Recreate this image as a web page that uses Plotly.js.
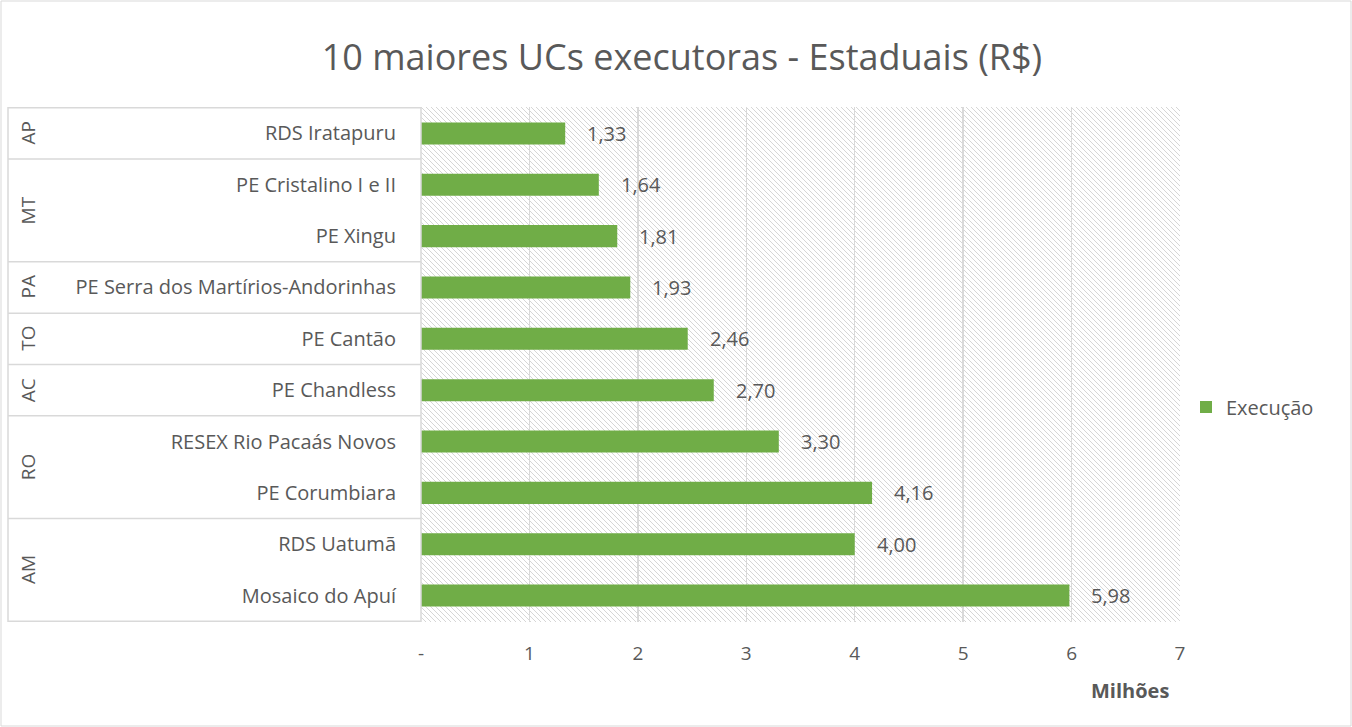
<!DOCTYPE html>
<html>
<head>
<meta charset="utf-8">
<script src="https://cdn.plot.ly/plotly-3.0.1.min.js"></script>
<style>html,body{margin:0;padding:0;background:#fff;}#chart{width:1352px;height:727px;}</style>
</head>
<body>
<div id="chart"></div>
<script>
// Data (top to bottom as shown)
const states = ["AP", "MT", "MT", "PA", "TO", "AC", "RO", "RO", "AM", "AM"];
const units = ["RDS Iratapuru", "PE Cristalino I e II", "PE Xingu", "PE Serra dos Martírios-Andorinhas", "PE Cantão", "PE Chandless", "RESEX Rio Pacaás Novos", "PE Corumbiara", "RDS Uatumã", "Mosaico do Apuí"];
const execucao = [1.33, 1.64, 1.81, 1.93, 2.46, 2.70, 3.30, 4.16, 4.00, 5.98];
const xTickVals = [0, 1, 2, 3, 4, 5, 6, 7];
const xTickText = ["-", "1", "2", "3", "4", "5", "6", "7"];

const FONT = "'Open Sans', 'Noto Sans', sans-serif";
const TXT = "#595959";
const W = 1352, H = 727;
const mL = 421, mR = 172, mT = 107, mB = 105;
const pw = W - mL - mR, ph = H - mT - mB;

// hatch background image
const svg = `<svg xmlns="http://www.w3.org/2000/svg" width="${pw}" height="${ph}" viewBox="0 0 ${pw} ${ph}"><defs><pattern id="p" width="5" height="5" patternUnits="userSpaceOnUse"><path d="M-1,-1 L6,6 M-1,4 L1,6 M4,-1 L6,1" stroke="#d6d6d6" stroke-width="1"/></pattern></defs><rect width="${pw}" height="${ph}" fill="url(#p)"/></svg>`;
const bgSrc = "data:image/svg+xml;charset=utf-8," + encodeURIComponent(svg);

const trace = {
  type: "bar",
  orientation: "h",
  y: units,
  x: execucao,
  name: "Execução",
  marker: { color: "#70AD47" },
  hoverinfo: "x+y"
};

// group info
const groups = [];
states.forEach((s, i) => {
  if (groups.length && groups[groups.length - 1].s === s) groups[groups.length - 1].end = i;
  else groups.push({ s: s, start: i, end: i });
});

const xLeftPaper = -(mL - 8) / pw;
const shapes = [];
const annotations = [];
const lineStyle = { color: "#D9D9D9", width: 1.5 };
shapes.push({ type: "line", xref: "paper", yref: "paper", x0: xLeftPaper, x1: xLeftPaper, y0: 0, y1: 1, line: lineStyle });
shapes.push({ type: "line", xref: "paper", yref: "paper", x0: 0, x1: 0, y0: 0, y1: 1, line: lineStyle });
groups.forEach((g) => {
  shapes.push({ type: "line", xref: "paper", yref: "y", x0: xLeftPaper, x1: 0, y0: g.start - 0.5, y1: g.start - 0.5, line: lineStyle });
  annotations.push({
    xref: "paper", yref: "y", x: -(mL - 28) / pw, y: (g.start + g.end) / 2,
    xanchor: "center", yanchor: "middle",
    text: g.s, textangle: -90, showarrow: false,
    font: { family: FONT, size: 19, color: TXT }
  });
});
shapes.push({ type: "line", xref: "paper", yref: "y", x0: xLeftPaper, x1: 0, y0: states.length - 0.5, y1: states.length - 0.5, line: lineStyle });
// outer chart border
shapes.push({ type: "rect", xref: "paper", yref: "paper", x0: -(mL - 1) / pw, x1: 1 + (mR - 1) / pw, y0: -(mB - 1) / ph, y1: 1 + (mT - 1) / ph, line: { color: "#D9D9D9", width: 1 } });

// value labels
execucao.forEach((v, i) => {
  annotations.push({
    xref: "x", yref: "y", x: v, y: units[i], xanchor: "left", yanchor: "middle", xshift: 20,
    text: v.toFixed(2).replace(".", ","), showarrow: false,
    font: { family: FONT, size: 20, color: TXT }
  });
});
annotations.push({
  xref: "paper", yref: "paper", x: (1130 - mL) / pw, y: -(690 - mT - ph) / ph,
  xanchor: "center", yanchor: "middle",
  text: "<b>Milhões</b>", showarrow: false, font: { family: FONT, size: 20, color: TXT }
});

const layout = {
  width: W, height: H,
  margin: { l: mL, r: mR, t: mT, b: mB },
  paper_bgcolor: "#fff",
  plot_bgcolor: "#fff",
  font: { family: FONT, color: TXT },
  title: {
    text: "10 maiores UCs executoras - Estaduais (R$)",
    font: { family: FONT, size: 36, color: TXT },
    xref: "container", x: 682 / W, xanchor: "center",
    yref: "container", y: 1 - 57 / H, yanchor: "middle"
  },
  bargap: 0.57,
  separators: ",.",
  xaxis: {
    range: [0, 7],
    tickvals: xTickVals, ticktext: xTickText,
    showgrid: true, gridcolor: "#D9D9D9", gridwidth: 1.5,
    zeroline: false, showline: false,
    ticks: "outside", ticklen: 14, tickcolor: "rgba(0,0,0,0)",
    tickfont: { family: FONT, size: 19, color: TXT },
    fixedrange: true
  },
  yaxis: {
    type: "category",
    autorange: "reversed",
    showgrid: false, zeroline: false, showline: false,
    ticks: "outside", ticklen: 20, tickcolor: "rgba(0,0,0,0)",
    tickfont: { family: FONT, size: 20, color: TXT },
    fixedrange: true
  },
  showlegend: true,
  legend: {
    x: 1 + (1186 - mL - pw) / pw, xanchor: "left",
    y: (mT + ph - 407) / ph, yanchor: "middle",
    font: { family: FONT, size: 20, color: TXT },
    itemwidth: 30
  },
  images: [{
    source: bgSrc, xref: "paper", yref: "paper", x: 0, y: 1,
    sizex: 1, sizey: 1, xanchor: "left", yanchor: "top",
    sizing: "stretch", layer: "below"
  }],
  shapes: shapes,
  annotations: annotations
};

Plotly.newPlot("chart", [trace], layout, { displayModeBar: false, staticPlot: true });
</script>
</body>
</html>
